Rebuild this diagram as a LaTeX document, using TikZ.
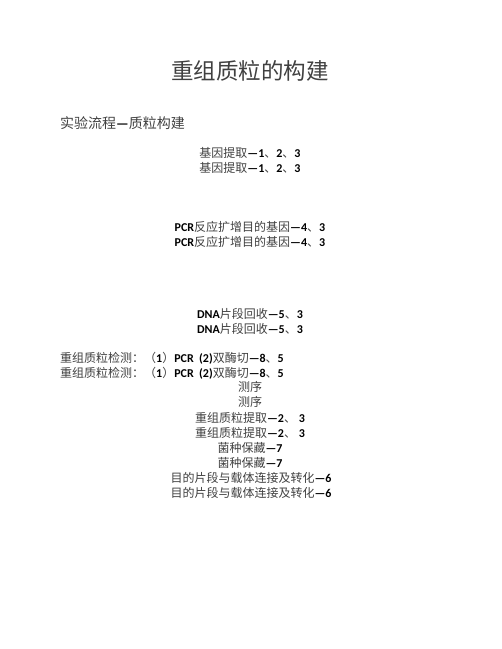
\documentclass[tikz,border=0pt]{standalone}
\usepackage{fontspec}
\setmainfont{Carlito}
\newfontfamily\cjk{Noto Sans CJK SC}
\newcommand{\zh}[1]{{\cjk\color{black!75}#1}}
\newcommand{\la}[1]{\textbf{#1}}
\begin{document}
\begin{tikzpicture}[x=1pt,y=-1pt,
  body/.style={font=\fontsize{12}{14}\selectfont,inner sep=0pt}]
\useasboundingbox (0,0) rectangle (502,649);
\node[inner sep=0pt,font=\fontsize{22.5}{26}\selectfont] (title) at (250,71) {\zh{重组质粒的构建}};
\node[inner sep=0pt,anchor=west,font=\fontsize{14}{16}\selectfont] (flow) at (60,123) {\zh{实验流程}\la{—}\zh{质粒构建}};
%\draw[help lines] (0,0) grid (502,649);
\foreach \y/\n in {153/a,168/b}
  \node[body] (gene\n) at (250,\y) {\zh{基因提取}\la{—1}\zh{、}\la{2}\zh{、}\la{3}};
\foreach \y/\n in {227/a,242/b}
  \node[body] (pcr\n) at (250,\y) {\la{PCR}\zh{反应扩增目的基因}\la{—4}\zh{、}\la{3}};
\foreach \y/\n in {314/a,329/b}
  \node[body] (dna\n) at (250,\y) {\la{DNA}\zh{片段回收}\la{—5}\zh{、}\la{3}};
\foreach \y/\n in {358/a,373/b}
  \node[body,anchor=west] (check\n) at (60,\y) {\zh{重组质粒检测：（}\la{1}\zh{）}\la{PCR\ \ (2)}\zh{双酶切}\la{—8}\zh{、}\la{5}};
\foreach \y/\n in {387/a,402/b}
  \node[body] (seq\n) at (250,\y) {\zh{测序}};
\foreach \y/\n in {418/a,433/b}
  \node[body] (plas\n) at (250,\y) {\zh{重组质粒提取}\la{—2}\zh{、}\la{ 3}};
\foreach \y/\n in {448/a,463/b}
  \node[body] (keep\n) at (250,\y) {\zh{菌种保藏}\la{—7}};
\foreach \y/\n in {478/a,493/b}
  \node[body] (link\n) at (251,\y) {\zh{目的片段与载体连接及转化}\la{—6}};
\end{tikzpicture}
\end{document}
